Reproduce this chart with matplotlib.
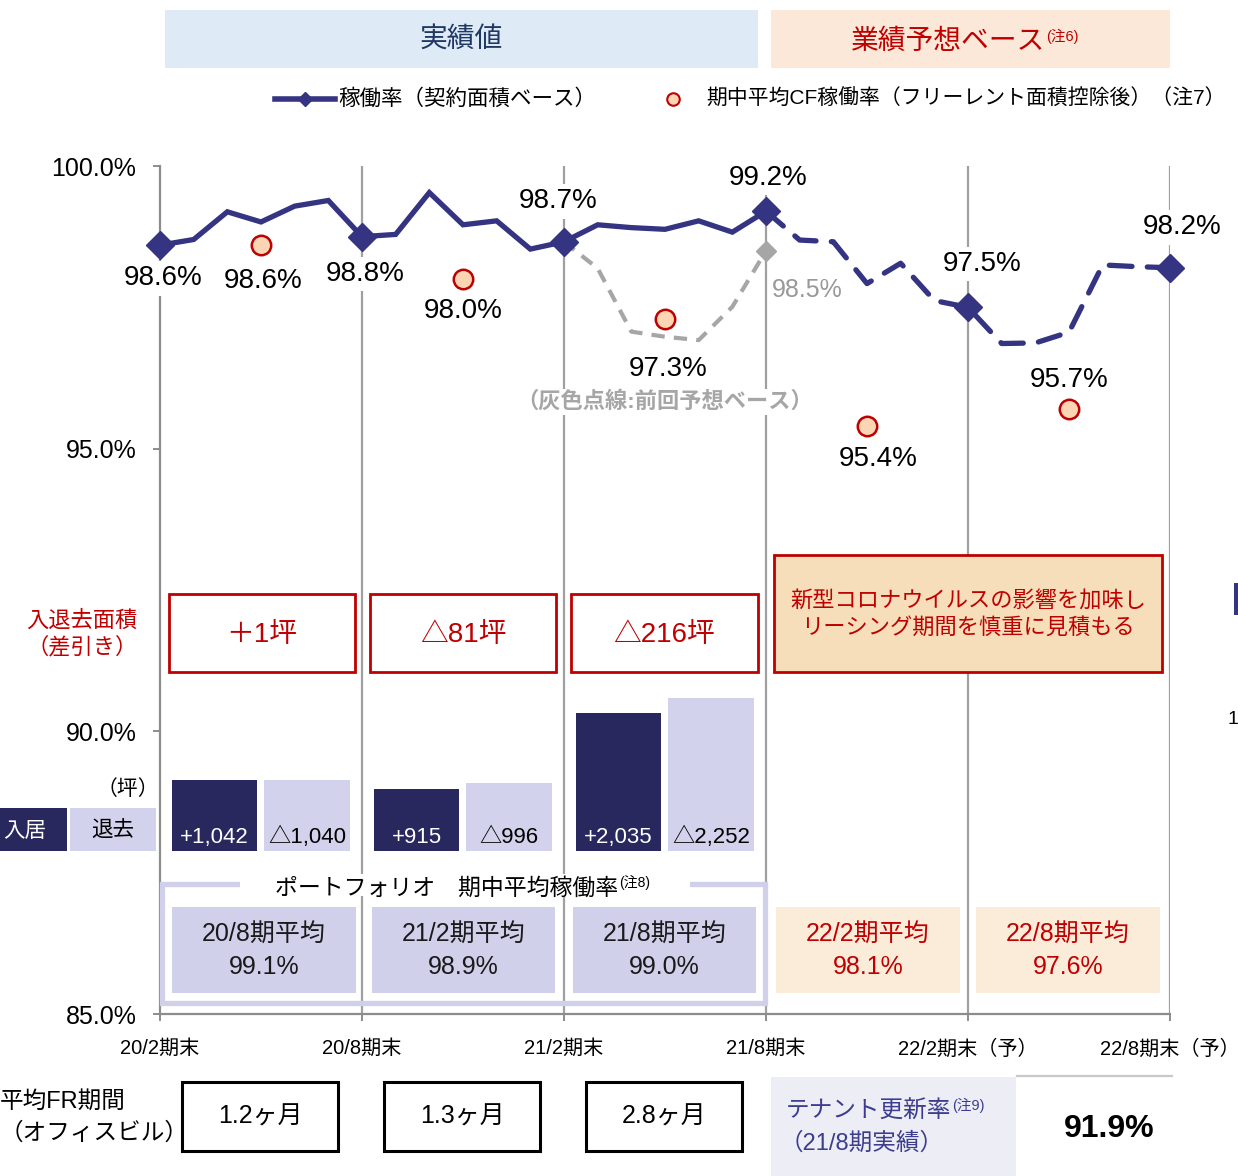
import matplotlib
matplotlib.use('Agg')
import matplotlib.pyplot as plt
from matplotlib.patches import Rectangle
from matplotlib.lines import Line2D

plt.rcParams['font.family'] = ['Liberation Sans', 'Noto Sans CJK JP', 'DejaVu Sans']

W, H = 1238, 1176

# ---------------- data ----------------
period_labels = ["20/2期末", "20/8期末", "21/2期末", "21/8期末", "22/2期末（予）", "22/8期末（予）"]
period_months = [0, 6, 12, 18, 24, 30]

actual_months = list(range(0, 19))
actual = [98.6, 98.70, 99.19, 99.01, 99.29, 99.39, 98.75, 98.79, 99.53, 98.96,
          99.03, 98.53, 98.66, 98.96, 98.91, 98.88, 99.03, 98.83, 99.2]
forecast_months = list(range(18, 31))
forecast = [99.2, 98.69, 98.66, 97.92, 98.28, 97.62, 97.5, 96.86, 96.87, 97.06,
            98.25, 98.22, 98.2]
prev_months = list(range(12, 19))
prev_forecast = [98.66, 98.19, 97.07, 96.98, 96.92, 97.51, 98.5]

cf_months = [3, 9, 15, 21, 27]
cf_rate = [98.6, 98.0, 97.3, 95.4, 95.7]

y_ticks = [85, 90, 95, 100]

bar_centers = [3, 9, 15]
move_in = [1042, 915, 2035]
move_out = [1040, 996, 2252]
net_area = ["＋1坪", "△81坪", "△216坪"]

avg_labels = ["20/8期平均", "21/2期平均", "21/8期平均", "22/2期平均", "22/8期平均"]
avg_values = [99.1, 98.9, 99.0, 98.1, 97.6]
fr_values = ["1.2ヶ月", "1.3ヶ月", "2.8ヶ月"]
tenant_renewal = "91.9%"

# ---------------- colours ----------------
NAVY = '#343482'
DARK = '#28285F'
LIGHT = '#D2D2EC'
RED = '#C00000'
GRAY = '#A6A6A6'
AXGRAY = '#8C8C8C'
PEACH = '#FCD5B4'

fig = plt.figure(figsize=(W / 100, H / 100), dpi=100)
fig.patch.set_facecolor('white')

# ---------------- main axes ----------------
ax = fig.add_axes([160 / W, 1 - 1014 / H, 1010 / W, 848 / H])
ax.set_xlim(0, 30)
ax.set_ylim(85, 100)
ax.patch.set_visible(False)
for s in ['top', 'right']:
    ax.spines[s].set_visible(False)
for s in ['left', 'bottom']:
    ax.spines[s].set_color(AXGRAY)
    ax.spines[s].set_linewidth(1.6)
ax.vlines(period_months[1:], 85, 100, colors='#A0A0A0', lw=1.6, zorder=1)

ax.set_yticks(y_ticks)
ax.set_yticklabels([f"{v:.1f}%" for v in y_ticks], fontsize=18)
ax.set_xticks(period_months)
ax.set_xticklabels(period_labels, fontsize=14.5)
ax.tick_params(axis='y', direction='out', length=5, width=1.4, color=AXGRAY, pad=12)
ax.tick_params(axis='x', direction='out', length=5, width=1.4, color=AXGRAY, pad=13)

ax.plot(prev_months, prev_forecast, color=GRAY, lw=3, ls=(0, (3.2, 2.2)), zorder=4)
ax.plot(prev_months[-1], prev_forecast[-1], 'D', ms=10, color=GRAY, zorder=4)
ax.plot(actual_months, actual, color=NAVY, lw=3.8, solid_joinstyle='miter', zorder=5,
        clip_on=False)
ax.plot(forecast_months, forecast, color=NAVY, lw=3.8, ls=(0, (4.3, 2.9)),
        dash_capstyle='round', zorder=5, clip_on=False)

all_vals = dict(zip(actual_months, actual))
all_vals.update(dict(zip(forecast_months, forecast)))
pe_vals = [all_vals[m] for m in period_months]
ax.plot(period_months, pe_vals, 'D', ms=14, color=NAVY, zorder=6, clip_on=False)
ax.plot(cf_months, cf_rate, 'o', ms=14, mfc=PEACH, mec=RED, mew=1.8, zorder=6)

bb = dict(boxstyle='square,pad=0.15', fc='white', ec='none')


def lab(x, y, dx, dy, color='black', size=20):
    ax.annotate(f"{y:.1f}%", (x, y), xytext=(dx, dy), textcoords='offset points',
                ha='center', va='center', fontsize=size, color=color, bbox=bb, zorder=3)


pe_offsets = [(2, -24), (2, -27), (-4, 29), (1.5, 24), (10, 31), (9, 29)]
for m, v, (dx, dy) in zip(period_months, pe_vals, pe_offsets):
    lab(m, v, dx, dy)
cf_offsets = [(1.5, -26), (0, -23), (2, -36), (8, -24), (0, 21)]
for m, v, (dx, dy) in zip(cf_months, cf_rate, cf_offsets):
    lab(m, v, dx, dy)
lab(prev_months[-1], prev_forecast[-1], 30, -28, color='#999999', size=18)

# ---------------- bars ----------------
bax = fig.add_axes([160 / W, 1 - 851 / H, 1010 / W, 200 / H])
bax.set_xlim(0, 30)
bax.set_ylim(0, 2944)
bax.axis('off')
bax.patch.set_visible(False)
xin = [c - 1.38 for c in bar_centers]
xout = [c + 1.37 for c in bar_centers]
bax.bar(xin, move_in, width=2.55, color=DARK)
bax.bar(xout, move_out, width=2.55, color=LIGHT)
for x, v in zip(xin, move_in):
    bax.annotate(f"+{v:,}", (x, 0), xytext=(0, 10), textcoords='offset points',
                 ha='center', va='center', color='white', fontsize=16)
for x, v in zip(xout, move_out):
    bax.annotate(f"△{v:,}", (x, 0), xytext=(0, 10), textcoords='offset points',
                 ha='center', va='center', color='black', fontsize=16)

# ---------------- overlay (pixel coords) ----------------
ov = fig.add_axes([0, 0, 1, 1])
ov.set_xlim(0, W)
ov.set_ylim(H, 0)
ov.axis('off')
ov.patch.set_visible(False)


def rect(x0, y0, x1, y1, fc='none', ec='none', lw=0, z=2):
    ov.add_patch(Rectangle((x0, y0), x1 - x0, y1 - y0, fc=fc, ec=ec, lw=lw, zorder=z))


def txt(x, y, s, size=15, color='black', ha='center', va='center', **kw):
    ov.text(x, y, s, fontsize=size, color=color, ha=ha, va=va, **kw)


# headers
rect(165, 10, 758, 68, fc='#DEEBF7')
txt(461, 41, "実績値", size=20, color='#1F3864')
rect(771, 10, 1170, 68, fc='#FBE8D8')
txt(1045, 42, "業績予想ベース", size=20, color=RED, ha='right')
txt(1046, 36, "(注6)", size=10.5, color=RED, ha='left')

# legend
ov.add_line(Line2D([275, 335], [99, 99], color=NAVY, lw=4))
ov.add_line(Line2D([305], [99], marker='D', ms=7, color=NAVY))
txt(338, 99, "稼働率（契約面積ベース）", size=15.5, ha='left')
ov.add_line(Line2D([673], [99], marker='o', ms=9, mfc=PEACH, mec=RED, mew=1.5))
txt(706, 99, "期中平均CF稼働率（フリーレント面積控除後）（注7）", size=15, ha='left')

# gray note
txt(665, 402, "（灰色点線:前回予想ベース）", size=16, color=GRAY, fontweight='bold',
    bbox=dict(boxstyle='square,pad=0.1', fc='white', ec='none'))

# net area boxes
txt(82, 634, "入退去面積\n（差引き）", size=16, color=RED, linespacing=1.3)
for (x0, x1), s in zip([(169, 355), (370, 556), (571, 758)], net_area):
    rect(x0, 594, x1, 672, fc='white', ec=RED, lw=2)
    txt((x0 + x1) / 2, 635, s, size=20, color=RED)

rect(774, 555, 1162, 672, fc='#F5DEB9', ec=RED, lw=2)
txt(968, 615, "新型コロナウイルスの影響を加味し\nリーシング期間を慎重に見積もる", size=16,
    color=RED, linespacing=1.3)

# bar legend
txt(128, 789, "（坪）", size=15)
rect(0, 808, 67, 851, fc=DARK)
txt(25, 831, "入居", size=15.5, color='white')
rect(70, 808, 156, 851, fc=LIGHT)
txt(113, 831, "退去", size=15.5)

# portfolio averages
rect(162, 884, 765, 1003, fc='none', ec='#D0D0EB', lw=3.8)
rect(240, 874, 690, 896, fc='white', z=3)
txt(618, 888, "ポートフォリオ　期中平均稼働率", size=16.5, ha='right', zorder=4)
txt(619, 882, "(注8)", size=10, ha='left', zorder=4)
box_x = [(172, 356), (372, 555), (573, 756), (776, 960), (976, 1160)]
for i, ((x0, x1), l, v) in enumerate(zip(box_x, avg_labels, avg_values)):
    if i < 3:
        rect(x0, 907, x1, 993, fc='#D0D0EB')
        col = '#1A1A1A'
    else:
        rect(x0, 907, x1, 993, fc='#FBEBD9')
        col = RED
    txt((x0 + x1) / 2, 951, f"{l}\n{v:.1f}%", size=18, color=col, linespacing=1.4)

# FR
txt(0, 1102, "平均FR期間", size=17, ha='left')
txt(0, 1133, "（オフィスビル）", size=17, ha='left')
for (x0, x1), s in zip([(182, 338), (384, 540), (586, 742)], fr_values):
    rect(x0, 1082, x1, 1151, fc='white', ec='black', lw=2.2)
    txt((x0 + x1) / 2, 1117, s, size=18)

# tenant renewal
rect(771, 1077, 1016, 1176, fc='#EDEDF5')
txt(786, 1112, "テナント更新率", size=17, color='#3D3D8F', ha='left')
txt(952, 1105, "(注9)", size=10.5, color='#3D3D8F', ha='left')
txt(780, 1143, "（21/8期実績）", size=17, color='#3D3D8F', ha='left')
ov.add_line(Line2D([1017, 1172], [1076, 1076], color='#C8C8C8', lw=1.6))
txt(1109, 1129, tenant_renewal, size=23, fontweight='bold')

# cropped neighbour artifacts at right edge
rect(1234, 583, 1238, 615, fc=NAVY)
txt(1233, 720, "1", size=14)

fig.savefig('out.png', dpi=100)
